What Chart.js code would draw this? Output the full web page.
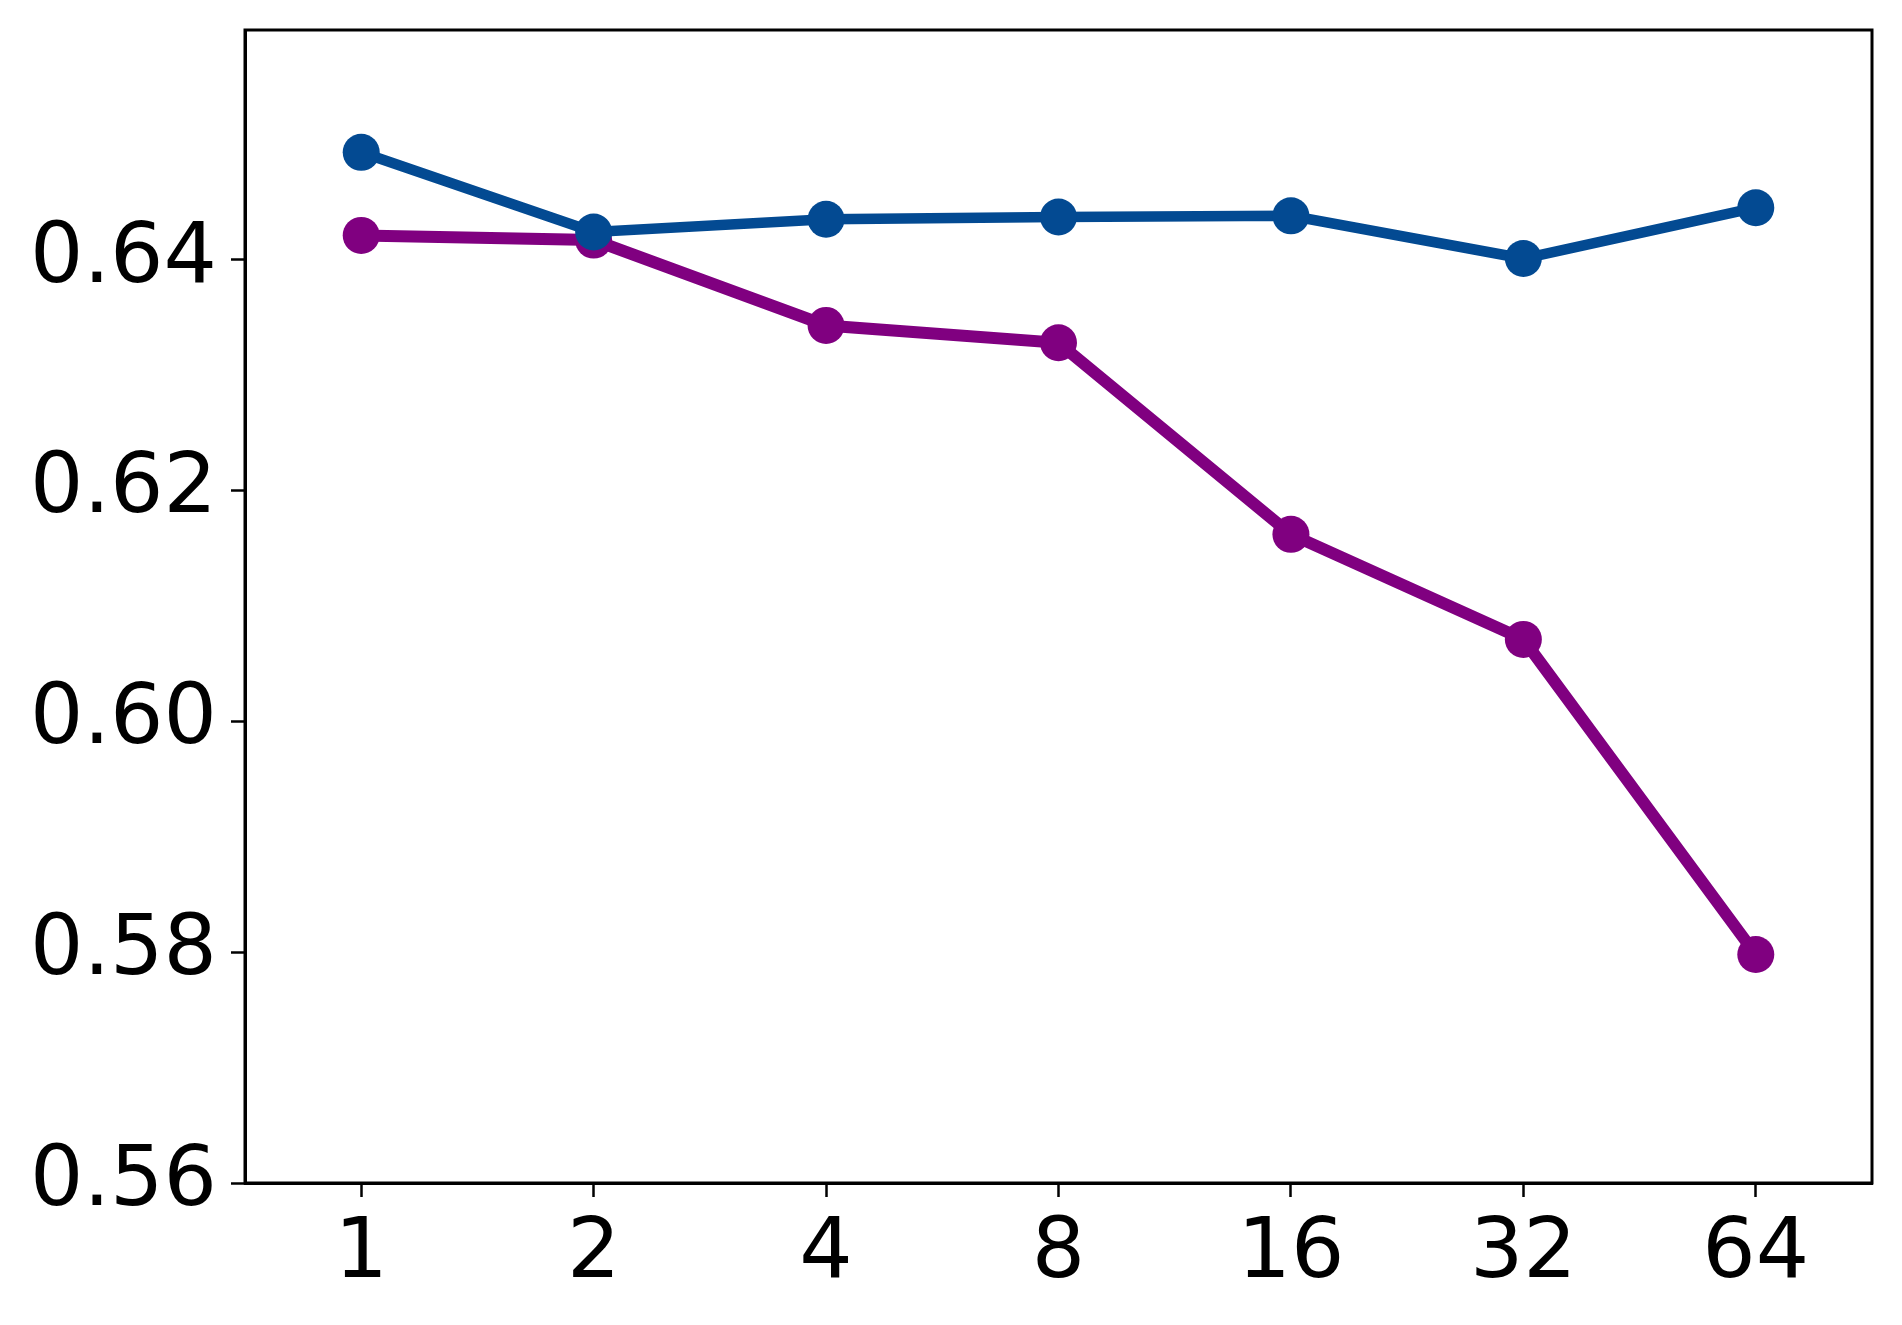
<!DOCTYPE html>
<html>
<head>
<meta charset="utf-8">
<script src="https://cdn.jsdelivr.net/npm/chart.js@4"></script>
<style>
    html, body { margin: 0; padding: 0; background: #ffffff; }
    #wrap { width: 1902px; height: 1325px; }
</style>
</head>
<body>
<div id="wrap"><canvas id="myChart" width="1902" height="1325"></canvas></div>
<script>
// x 축 카테고리
var categories = ['1', '2', '4', '8', '16', '32', '64'];
// 파란색 선 값
var blueValues = [0.6493, 0.6424, 0.6435, 0.6437, 0.6438, 0.6401, 0.6445];
// 보라색 선 값
var purpleValues = [0.6421, 0.6417, 0.6343, 0.6328, 0.6162, 0.6071, 0.5798];
// y 축 눈금
var yTicks = [0.56, 0.58, 0.60, 0.62, 0.64];

var tickFont = { family: 'DejaVu Sans', size: 84 };

// 플롯 영역 테두리 (위, 오른쪽 포함)
var frame = {
    id: 'frame',
    afterDraw: function(chart) {
        var a = chart.chartArea;
        var c = chart.ctx;
        c.save();
        c.strokeStyle = '#000000';
        c.lineWidth = 3;
        c.strokeRect(a.left, a.top, a.right - a.left, a.bottom - a.top);
        c.restore();
    }
};

var ctx = document.getElementById('myChart').getContext('2d');
var myChart = new Chart(ctx, {
    type: 'line',
    data: {
        labels: categories,
        datasets: [{
            data: blueValues,
            borderColor: '#034a92',
            backgroundColor: '#034a92',
            borderWidth: 10.5,
            pointRadius: 18.5,
            pointBorderWidth: 0,
            tension: 0
        }, {
            data: purpleValues,
            borderColor: '#800080',
            backgroundColor: '#800080',
            borderWidth: 12,
            pointRadius: 18.5,
            pointBorderWidth: 0,
            tension: 0
        }]
    },
    options: {
        responsive: false,
        animation: false,
        layout: { padding: { top: 30, right: 30, left: 0, bottom: 0 } },
        plugins: {
            legend: { display: false },
            tooltip: { enabled: false }
        },
        scales: {
            x: {
                offset: true,
                grid: { display: true, drawOnChartArea: false, offset: false, tickLength: 14, tickWidth: 2.5, tickColor: '#000000' },
                border: { display: true, color: '#000000', width: 3 },
                ticks: { color: '#000000', font: tickFont, padding: 8, maxRotation: 0 },
                afterFit: function(axis) {
                    axis.height = 142;
                    axis.paddingLeft = 0;
                    axis.paddingRight = 0;
                }
            },
            y: {
                min: 0.56,
                max: 0.6599,
                grid: { display: true, drawOnChartArea: false, tickLength: 14, tickWidth: 2.5, tickColor: '#000000' },
                border: { display: true, color: '#000000', width: 3 },
                ticks: {
                    color: '#000000',
                    font: tickFont,
                    padding: 14,
                    callback: function(v) { return Number(v).toFixed(2); }
                },
                afterBuildTicks: function(axis) {
                    axis.ticks = yTicks.map(function(v) { return { value: v }; });
                },
                afterFit: function(axis) {
                    axis.width = 245;
                    axis.paddingTop = 0;
                    axis.paddingBottom = 0;
                }
            }
        }
    },
    plugins: [frame]
});
</script>
</body>
</html>
